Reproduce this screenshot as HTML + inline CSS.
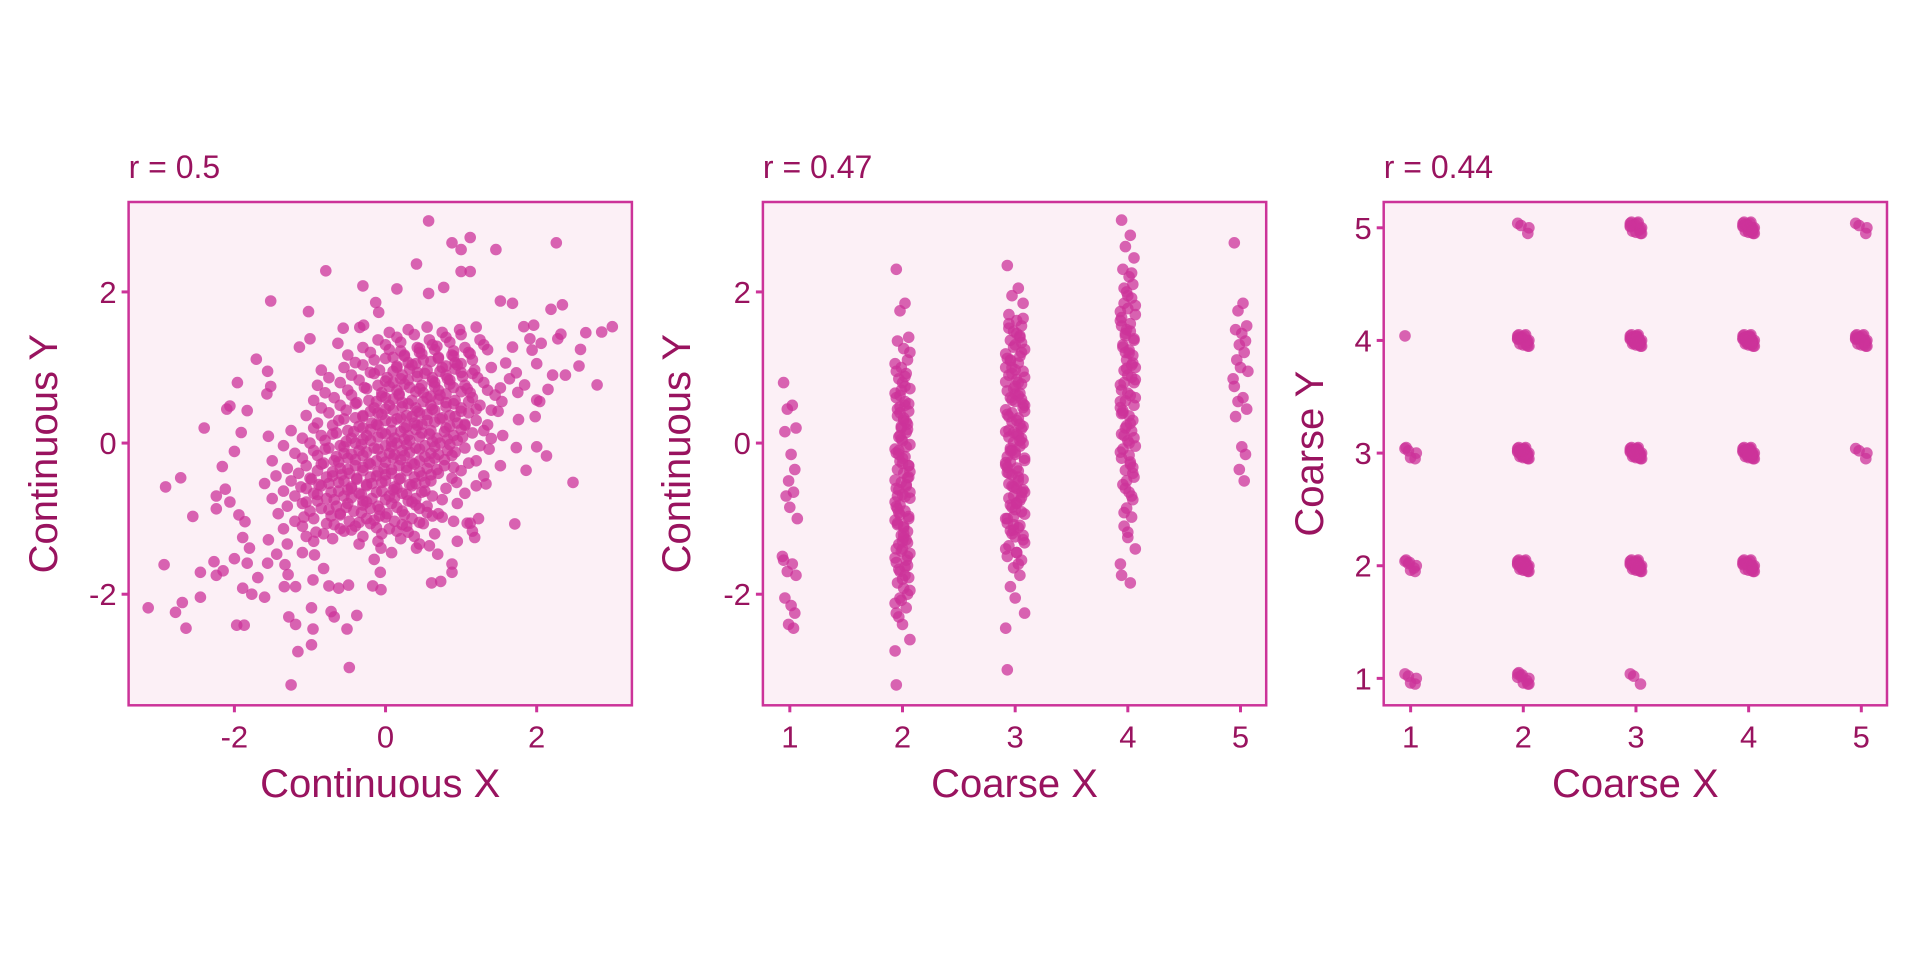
<!DOCTYPE html>
<html><head><meta charset="utf-8"><style>
html,body{margin:0;padding:0;background:#fff}
svg{display:block}
text{font-family:"Liberation Sans",sans-serif;fill:#99135f}
</style></head><body>
<svg id="chart" width="1920" height="960" xmlns="http://www.w3.org/2000/svg"></svg>
<script>
// ---- Panel 1: continuous X vs continuous Y ----
const contOutliers = [[0.57,2.94],[0.88,2.65],[1.12,2.72],[1.0,2.56],[1.46,2.56],[2.26,2.65],[-0.79,2.28],[0.41,2.37],[1.0,2.27],[1.12,2.27],[-0.30,2.08],[-1.52,1.88],[-1.02,1.74],[0.15,2.04],[0.77,2.06],[0.57,1.98],[1.52,1.88],[1.68,1.85],[2.19,1.77],[2.34,1.83],[3.0,1.54],[2.86,1.47],[2.65,1.46],[2.32,1.44],[2.58,1.24],[2.56,1.02],[2.8,0.77],[2.38,0.9],[2.48,-0.52],[2.13,-0.17],[2.0,-0.05],[1.98,0.35],[2.0,0.57],[1.86,-0.36],[1.71,-1.07],[1.73,-0.06],[1.52,-0.30],[0.61,-1.85],[0.88,-1.6],[0.88,-1.71],[0.41,-1.39],[0.58,-1.36],[1.18,-1.25],[1.12,-1.06],[-0.06,-1.94],[-0.17,-1.89],[-0.07,-1.71],[-0.38,-2.28],[-0.51,-2.46],[-0.48,-2.97],[-1.25,-3.2],[-1.16,-2.76],[-0.98,-2.67],[-0.96,-2.46],[-1.19,-2.40],[-1.28,-2.30],[-0.98,-2.18],[-0.72,-2.23],[-0.68,-2.30],[-0.75,-1.89],[-0.62,-1.92],[-0.49,-1.88],[-3.14,-2.18],[-2.78,-2.24],[-2.69,-2.11],[-2.64,-2.45],[-2.45,-2.04],[-1.97,-2.41],[-1.87,-2.41],[-2.93,-1.61],[-2.45,-1.71],[-2.27,-1.57],[-2.24,-1.75],[-2.15,-1.69],[-2.91,-0.58],[-2.71,-0.46],[-2.55,-0.97],[-2.40,0.2],[-2.24,-0.87],[-2.24,-0.70],[-2.16,-0.31],[-2.12,-0.61],[-2.0,-0.11],[-2.06,-0.78],[-2.1,0.45],[-2.06,0.49],[-1.91,0.14],[-1.96,0.8],[-1.83,0.43],[-1.71,1.11],[-1.56,0.95],[-1.52,0.75],[-1.57,0.65],[-1.55,0.09],[-1.14,1.27],[-1.0,1.38],[-0.63,1.32],[-0.56,1.52],[-0.34,1.53],[-0.29,1.56],[-0.13,1.86],[-0.09,1.73],[-1.94,-0.95],[-1.86,-1.04],[-1.80,-1.39],[-1.89,-1.25],[-2.0,-1.53],[-1.83,-1.59],[-1.77,-2.0],[-1.60,-2.04],[-1.89,-1.92],[-1.69,-1.78],[-1.56,-1.59],[-1.44,-1.47],[-1.55,-1.28],[-1.34,-1.90],[-1.29,-1.74],[-1.33,-1.61],[-1.19,-1.90],[-1.10,-1.45],[-0.94,-1.48],[-0.82,-1.66],[-0.96,-1.81],[-0.15,-1.54],[0.08,-1.45],[-0.06,-1.39],[0.73,-1.83],[0.69,-1.47],[0.75,-0.98],[0.94,-0.52],[1.08,-1.06],[1.23,-1.0],[1.33,-0.54],[1.37,-0.08],[1.40,0.06],[1.55,0.1],[1.35,0.24],[1.49,0.42],[1.76,0.31],[2.04,0.55],[2.15,0.71],[1.84,0.77],[2.0,1.05],[1.94,1.23],[2.06,1.32],[1.91,1.38],[1.83,1.54],[1.96,1.56],[1.68,1.27],[1.59,1.06],[1.64,0.85],[1.73,0.93],[1.52,0.73],[1.75,0.67],[2.28,1.38],[2.21,0.9],[1.54,0.55]];
const coreRowY = [-1.3,-1.2,-1.1,-1.0,-0.9,-0.8,-0.7,-0.6,-0.5,-0.4,-0.3,-0.2,-0.1,0.0,0.1,0.2,0.3,0.4,0.5,0.6,0.7,0.8,0.9,1.0,1.1,1.2,1.3,1.4,1.5];
const coreRowX = [
[-1.3,-0.95,-0.7,-0.35,-0.1,0.2,0.45,0.95],
[-1.05,-0.82,-0.55,-0.3,-0.05,0.15,0.38,0.65,1.15],
[-1.35,-1.1,-0.78,-0.6,-0.4,-0.2,0.05,0.28,0.5],
[-1.2,-0.95,-0.72,-0.48,-0.25,-0.08,0.12,0.35,0.62,0.9],
[-1.42,-1.0,-0.85,-0.6,-0.42,-0.2,0.02,0.22,0.45,0.7],
[-1.3,-1.1,-0.9,-0.65,-0.5,-0.3,-0.1,0.08,0.3,0.55,0.95],
[-1.5,-1.2,-0.95,-0.78,-0.55,-0.35,-0.18,0.05,0.22,0.4,0.62,1.05],
[-1.35,-1.05,-0.85,-0.62,-0.45,-0.25,-0.05,0.15,0.35,0.52,0.8,1.2],
[-1.6,-1.25,-1.0,-0.75,-0.55,-0.38,-0.18,0.0,0.2,0.4,0.6,0.88],
[-1.45,-1.15,-0.9,-0.7,-0.48,-0.3,-0.12,0.08,0.28,0.48,0.7,1.0,1.3],
[-1.3,-1.05,-0.82,-0.6,-0.4,-0.22,-0.02,0.18,0.35,0.55,0.78,1.1],
[-1.5,-1.1,-0.9,-0.68,-0.5,-0.3,-0.12,0.1,0.25,0.45,0.65,0.88,1.2],
[-1.2,-0.95,-0.75,-0.55,-0.35,-0.15,0.05,0.22,0.4,0.6,0.82,1.05],
[-1.35,-1.0,-0.8,-0.6,-0.4,-0.2,0.0,0.15,0.32,0.52,0.72,0.95,1.25],
[-1.1,-0.85,-0.65,-0.45,-0.25,-0.05,0.12,0.3,0.48,0.68,0.9,1.15],
[-1.25,-0.95,-0.7,-0.5,-0.3,-0.1,0.08,0.25,0.42,0.6,0.8,1.05,1.3],
[-0.9,-0.62,-0.4,-0.18,0.0,0.2,0.38,0.55,0.75,0.95,1.2],
[-1.05,-0.75,-0.52,-0.3,-0.1,0.1,0.28,0.45,0.65,0.85,1.1,1.4],
[-0.85,-0.6,-0.38,-0.15,0.05,0.22,0.4,0.6,0.8,1.0,1.25],
[-0.95,-0.68,-0.45,-0.22,0.0,0.18,0.35,0.55,0.72,0.92,1.15,1.45],
[-0.8,-0.5,-0.28,-0.05,0.15,0.32,0.5,0.7,0.9,1.12,1.35],
[-0.9,-0.6,-0.35,-0.1,0.1,0.3,0.48,0.65,0.85,1.05,1.3],
[-0.75,-0.45,-0.2,0.02,0.22,0.42,0.62,0.8,1.0,1.22],
[-0.85,-0.55,-0.3,-0.08,0.15,0.35,0.55,0.75,0.95,1.18,1.4],
[-0.4,-0.15,0.1,0.3,0.5,0.7,0.92,1.15],
[-0.5,-0.2,0.05,0.25,0.45,0.65,0.88,1.1,1.35],
[-0.3,0.0,0.2,0.42,0.62,0.85,1.05,1.3],
[-0.1,0.15,0.38,0.58,0.8,1.0,1.25],
[0.05,0.3,0.55,0.75,0.98,1.2]];
// denser inner core (half-step rows)
const innerRowY = [-1.15,-1.05,-0.95,-0.85,-0.75,-0.65,-0.55,-0.45,-0.35,-0.25,-0.15,-0.05,0.05,0.15,0.25,0.35,0.45,0.55,0.65,0.75,0.85,0.95,1.05,1.15,1.25];
const innerRowX = [
[-0.92,-0.45,-0.12,0.3],
[-0.68,-0.35,-0.15,0.22,0.45],
[-1.08,-0.6,-0.32,0.0,0.25,0.55],
[-0.75,-0.52,-0.3,-0.08,0.15,0.4],
[-1.05,-0.68,-0.45,-0.25,0.0,0.12,0.35,0.75],
[-0.9,-0.72,-0.5,-0.32,-0.12,0.1,0.28,0.48],
[-1.12,-0.88,-0.62,-0.45,-0.25,-0.05,0.12,0.32,0.52],
[-0.98,-0.78,-0.58,-0.38,-0.2,0.0,0.18,0.38,0.6],
[-0.7,-0.5,-0.3,-0.1,0.08,0.28,0.45,0.68,0.9],
[-0.85,-0.62,-0.4,-0.2,0.0,0.2,0.38,0.58,0.78],
[-0.65,-0.45,-0.25,-0.05,0.12,0.32,0.52,0.7,0.92],
[-0.8,-0.55,-0.32,-0.1,0.08,0.28,0.45,0.65,0.85],
[-0.52,-0.3,-0.1,0.08,0.25,0.45,0.62,0.82,1.02],
[-0.7,-0.42,-0.2,0.0,0.2,0.4,0.58,0.78,1.0],
[-0.35,-0.12,0.08,0.28,0.48,0.65,0.85,1.05],
[-0.55,-0.3,-0.05,0.15,0.35,0.55,0.72,0.92],
[-0.2,0.0,0.22,0.42,0.62,0.8,1.0,1.2],
[-0.4,-0.12,0.1,0.3,0.5,0.7,0.9,1.1],
[-0.05,0.18,0.4,0.6,0.8,1.0],
[-0.25,0.05,0.25,0.45,0.65,0.85,1.08],
[0.0,0.2,0.42,0.62,0.82,1.02],
[-0.15,0.1,0.32,0.52,0.72,0.92,1.15],
[0.15,0.4,0.6,0.8,1.0],
[0.0,0.25,0.48,0.7,0.9,1.12],
[0.2,0.45,0.68,0.9]];
const contTicks = [-2,0,2];

// ---- Panel 2: coarse X vs continuous Y ----
const coarseCats = [1,2,3,4,5];
const coarseCol1 = [0.8,0.5,0.45,0.2,0.15,-0.15,-0.35,-0.5,-0.65,-0.7,-0.85,-1.0,-1.5,-1.55,-1.6,-1.7,-1.75,-2.05,-2.15,-2.25,-2.4,-2.45];
const coarseCol2 = [2.3,1.85,1.75,1.4,1.35,1.25,1.1,1.0,0.92,0.85,0.8,0.72,0.66,0.6,0.55,0.48,0.42,0.36,0.3,0.25,0.2,0.14,0.08,0.03,-0.02,-0.08,-0.13,-0.18,-0.24,-0.3,-0.35,-0.4,-0.46,-0.52,-0.57,-0.62,-0.68,-0.73,-0.78,-0.84,-0.9,-0.95,-1.0,-1.06,-1.12,-1.17,-1.22,-1.28,-1.34,-1.4,-1.46,-1.52,-1.58,-1.64,-1.7,-1.78,-1.85,-1.92,-2.0,-2.08,-2.18,-2.3,-2.4,-2.6,-2.75,-3.2,0.5,0.1,-0.3,-0.7,-1.1,-1.5,0.22,-0.55,-0.92,-1.3,
 1.2,1.05,0.95,0.75,0.63,0.52,0.45,0.33,0.18,0.05,-0.05,-0.15,-0.27,-0.38,-0.49,-0.6,-0.71,-0.82,-0.97,-1.08,-1.2,-1.32,-1.43,-1.55,-1.67,-1.8,-1.95,-2.12,-2.25,0.88,0.4,-0.45,-0.87,-1.25,-1.62,0.7,0.28,-0.1,-0.2,-0.65,-1.02,-1.4,-1.75,-2.05];
const coarseCol3 = [2.35,2.05,1.95,1.85,1.7,1.62,1.55,1.48,1.42,1.36,1.3,1.24,1.18,1.12,1.06,1.0,0.95,0.9,0.84,0.78,0.72,0.66,0.6,0.55,0.5,0.44,0.38,0.33,0.28,0.22,0.17,0.12,0.06,0.01,-0.04,-0.1,-0.15,-0.2,-0.26,-0.32,-0.37,-0.42,-0.48,-0.54,-0.6,-0.65,-0.7,-0.76,-0.82,-0.88,-0.94,-1.0,-1.06,-1.12,-1.2,-1.28,-1.36,-1.45,-1.55,-1.65,-1.75,-1.9,-2.05,-2.25,-2.45,-3.0,0.8,0.4,0.0,-0.4,-0.8,1.2,-1.15,0.25,-0.25,0.65,-0.65,1.0,-1.0,0.1,-0.1,
 1.65,1.52,1.45,1.33,1.27,1.15,1.09,0.97,0.87,0.81,0.69,0.63,0.57,0.47,0.35,0.3,0.19,0.14,0.03,-0.07,-0.12,-0.23,-0.29,-0.39,-0.45,-0.57,-0.62,-0.73,-0.79,-0.91,-0.97,-1.09,-1.16,-1.24,-1.32,-1.4,-1.5,-1.6,0.92,0.52,0.08,-0.33,-0.72,-1.08,1.4,1.1,0.75,0.42,0.15,-0.18,-0.5,-0.85,-1.22,1.58,-1.45,0.58,-0.58];
const coarseCol4 = [2.95,2.75,2.6,2.45,2.3,2.2,2.1,2.0,1.92,1.85,1.78,1.7,1.62,1.55,1.48,1.42,1.36,1.3,1.23,1.16,1.1,1.03,0.96,0.9,0.84,0.77,0.7,0.63,0.56,0.5,0.43,0.36,0.3,0.23,0.16,0.1,0.03,-0.04,-0.12,-0.2,-0.28,-0.36,-0.45,-0.55,-0.65,-0.75,-0.86,-0.98,-1.1,-1.25,-1.4,-1.6,-1.75,-1.85,1.2,0.8,0.4,0.0,-0.4,1.5,
 2.25,2.05,1.95,1.82,1.74,1.66,1.58,1.45,1.38,1.27,1.19,1.06,0.99,0.87,0.8,0.66,0.6,0.47,0.39,0.26,0.2,0.07,-0.08,-0.16,-0.32,-0.5,-0.7,-0.92,-1.18,1.0,0.55,0.12,-0.25,-0.6];
const coarseCol5 = [2.65,1.85,1.75,1.55,1.5,1.45,1.35,1.3,1.2,1.1,1.0,0.95,0.85,0.75,0.6,0.55,0.45,0.35,-0.05,-0.15,-0.35,-0.5];
const jitterX = [-0.05,0.02,-0.02,0.05,-0.04,0.01,0.04,-0.01,0.03,-0.03,0.0,0.06,-0.06];

// ---- Panel 3: coarse X vs coarse Y (cell counts) ----
const cellX =     [1,2,3,1,2,3,4,1,2,3,4,5,1,2,3,4,5,2,3,4,5];
const cellY =     [1,1,1,2,2,2,2,3,3,3,3,3,4,4,4,4,4,5,5,5,5];
const cellCount = [5,10,3,8,40,40,20,6,40,60,40,4,1,20,60,50,20,4,15,25,4];
const jitter2X = [-0.05,0.04,-0.02,0.05,0.0,-0.04,0.03,-0.01,0.05,-0.05,0.02,-0.03,0.04,0.01,-0.05,0.03];
const jitter2Y = [0.04,-0.05,0.02,0.0,-0.04,0.05,-0.02,0.03,-0.05,0.01,0.05,-0.03,-0.01,0.04,0.02,-0.04];

const NS = 'http://www.w3.org/2000/svg';
const svg = document.getElementById('chart');
const PT = '#cc3399';
function el(tag, attrs, parent){ const e=document.createElementNS(NS,tag); for(const k in attrs) e.setAttribute(k,attrs[k]); (parent||svg).appendChild(e); return e; }
function linScale(d0,d1,r0,r1){ return v => r0 + (v-d0)/(d1-d0)*(r1-r0); }

function panel(opt){
  const g = el('g',{});
  
  
  const L=opt.left, R=opt.left+503.3, T=202, B=705.3;
  const bg = el('rect',{x:L,y:T,width:R-L,height:B-T,fill:'#fcf0f6'},g);
  
  
  const sx = linScale(opt.xd[0],opt.xd[1],L,R);
  const sy = linScale(opt.yd[0],opt.yd[1],B,T);
  const pts = el('g',{fill:PT,'fill-opacity':0.75},g);
  
  
  opt.points.forEach(p=>{
    const c = el('circle',{cx:sx(p[0]).toFixed(1),cy:sy(p[1]).toFixed(1),r:5.8},pts);
    
    
  });
  const fr = el('rect',{x:L,y:T,width:R-L,height:B-T,fill:'none',stroke:PT,'stroke-width':2.5},g);
  
  
  opt.xticks.forEach(t=>{
    const x=sx(t);
    el('line',{x1:x,x2:x,y1:B,y2:B+7,stroke:PT,'stroke-width':3},g);
    const tx = el('text',{x:x,y:B+42,'font-size':31,'text-anchor':'middle'},g);
    tx.textContent = t;
    
    
  });
  opt.yticks.forEach(t=>{
    const y=sy(t);
    el('line',{x1:L-7,x2:L,y1:y,y2:y,stroke:PT,'stroke-width':3},g);
    const ty = el('text',{x:L-12,y:y+11,'font-size':31,'text-anchor':'end'},g);
    ty.textContent = t;
    
    
  });
  const xt = el('text',{x:(L+R)/2,y:797,'font-size':40,'text-anchor':'middle'},g);
  xt.textContent = opt.xtitle;
  
  
  const yx = opt.ytitleX;
  const yt = el('text',{x:yx,y:(T+B)/2,'font-size':40,'text-anchor':'middle',transform:`rotate(-90 ${yx} ${(T+B)/2})`},g);
  yt.textContent = opt.ytitle;
  
  
  const ti = el('text',{x:L,y:178,'font-size':32},g);
  ti.textContent = opt.title;
  
  
}

// Build panel 1 points
const p1 = contOutliers.slice();
coreRowY.forEach((y,i)=>coreRowX[i].forEach((x,j)=>p1.push([x, y + ((j%3)-1)*0.035])));
innerRowY.forEach((y,i)=>innerRowX[i].forEach((x,j)=>p1.push([x, y + ((j%3)-1)*0.03])));
panel({name:'panel-continuous',left:128.6,xd:[-3.40,3.26],yd:[-3.47,3.19],points:p1,xticks:contTicks,yticks:contTicks,xtitle:'Continuous X',ytitle:'Continuous Y',ytitleX:57,title:'r = 0.5'});

// Panel 2
const cols = [coarseCol1,coarseCol2,coarseCol3,coarseCol4,coarseCol5];
const p2 = [];
cols.forEach((col,ci)=>col.forEach((y,j)=>p2.push([coarseCats[ci] + jitterX[j%jitterX.length]*(ci===2?1.4:1.1), y])));
panel({name:'panel-coarse-x',left:762.9,xd:[0.761,5.228],yd:[-3.47,3.19],points:p2,xticks:coarseCats,yticks:contTicks,xtitle:'Coarse X',ytitle:'Continuous Y',ytitleX:690,title:'r = 0.47'});

// Panel 3
const p3 = [];
cellX.forEach((cx,i)=>{ for(let k=0;k<cellCount[i];k++){ const m=k%jitter2X.length; p3.push([cx+jitter2X[m]*(k<16?1:0.6), cellY[i]+jitter2Y[m]*(k<16?1:0.6)]); } });
panel({name:'panel-coarse-both',left:1383.7,xd:[0.761,5.228],yd:[0.761,5.229],points:p3,xticks:coarseCats,yticks:coarseCats,xtitle:'Coarse X',ytitle:'Coarse Y',ytitleX:1323,title:'r = 0.44'});
</script>
</body></html>
